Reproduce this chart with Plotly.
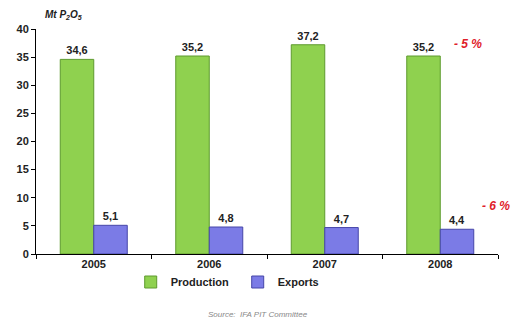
import plotly.graph_objects as go

years = ["2005", "2006", "2007", "2008"]
production = [34.6, 35.2, 37.2, 35.2]
exports = [5.1, 4.8, 4.7, 4.4]
prod_labels = ["34,6", "35,2", "37,2", "35,2"]
exp_labels = ["5,1", "4,8", "4,7", "4,4"]
y_ticks = [0, 5, 10, 15, 20, 25, 30, 35, 40]

font = "Liberation Sans, Arial, sans-serif"

fig = go.Figure()
fig.add_trace(go.Bar(
    x=years, y=production, name="<b>Production</b>",
    marker=dict(color="#8fd14f", line=dict(color="#5e9a2e", width=1)),
    text=["<b>%s</b>" % t for t in prod_labels], textposition="outside", cliponaxis=False,
    textfont=dict(family=font, size=11, color="#222222"),
))
fig.add_trace(go.Bar(
    x=years, y=exports, name="<b>Exports</b>",
    marker=dict(color="#7b7be6", line=dict(color="#4646a8", width=1)),
    text=["<b>%s</b>" % t for t in exp_labels], textposition="outside", cliponaxis=False,
    textfont=dict(family=font, size=11, color="#222222"),
))

fig.update_layout(
    width=516, height=324,
    margin=dict(l=36, r=18, t=29, b=70),
    paper_bgcolor="white", plot_bgcolor="white",
    barmode="group", bargap=0.42, bargroupgap=0,
    font=dict(family=font, size=11, color="#222222"),
    showlegend=True,
    legend=dict(orientation="h", x=0.205, xanchor="left", y=-0.06, yanchor="top",
                font=dict(family=font, size=11, color="#222222"),
                entrywidth=62, entrywidthmode="pixels", itemwidth=30,
                tracegroupgap=0),
    xaxis=dict(showline=True, linecolor="black", linewidth=1,
               ticks="outside", tickson="boundaries", ticklen=4, tickcolor="black",
               tickfont=dict(family="Liberation Sans, Arial", size=11, color="#222222", weight="bold"),
               showgrid=False),
    yaxis=dict(range=[0, 40], tickvals=y_ticks, showline=True, linecolor="black",
               linewidth=1, ticks="outside", ticklen=4, tickcolor="black",
               tickfont=dict(family="Liberation Sans, Arial", size=11, color="#222222", weight="bold"),
               showgrid=False, zeroline=False),
)

fig.add_annotation(xref="paper", yref="paper", x=0.015, y=1.0, yshift=22,
                   text="<b><i>Mt P<sub>2</sub>O<sub>5</sub></i></b>", showarrow=False,
                   font=dict(family=font, size=10, color="#222222"), xanchor="left")
fig.add_annotation(xref="paper", yref="y", x=0.9, y=37.4,
                   text="<b><i>- 5 %</i></b>", showarrow=False,
                   font=dict(family=font, size=12, color="#e0202a"), xanchor="left")
fig.add_annotation(xref="paper", yref="y", x=0.96, y=8.6,
                   text="<b><i>- 6 %</i></b>", showarrow=False,
                   font=dict(family=font, size=12, color="#e0202a"), xanchor="left")
fig.add_annotation(xref="paper", yref="paper", x=0.48, y=-0.24, yanchor="top",
                   text="<i>Source:  IFA PIT Committee</i>", showarrow=False,
                   font=dict(family=font, size=8, color="#888888"))

fig.write_html("out.html")
